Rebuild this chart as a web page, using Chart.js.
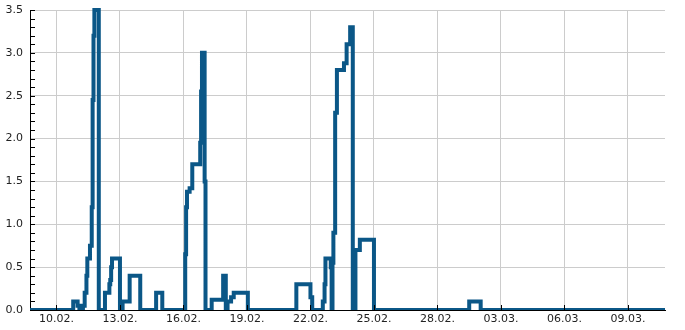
<!DOCTYPE html>
<html><head><meta charset="utf-8">
<script src="https://cdn.jsdelivr.net/npm/chart.js@4"></script>
<style>html,body{margin:0;padding:0;background:#fff}#wrap{width:685px;height:330px;position:relative}</style>
</head><body><div id="wrap"><canvas id="c"></canvas></div>
<script>
// Hours since 10.02. 00:00 at which the value changes (step series)
const stepHours = [-30, 19, 24, 26, 30, 32, 34, 35, 38, 40, 41, 42, 43, 48,
  55, 60, 61, 62, 63, 72, 75, 83, 95, 113, 120,
  146, 147, 148, 151, 154, 163, 164, 165, 168, 169,
  176, 189, 192, 194, 198, 201, 217,
  272, 288, 290, 302, 304, 305, 311, 312, 313, 314, 316, 318, 326, 329, 333, 336,
  339, 344, 360, 468, 481, 690];
const stepValues = [0, 0.1, 0.05, 0, 0.05, 0.2, 0.4, 0.6, 0.75, 1.2, 2.45, 3.2, 3.5, 0,
  0.2, 0.3, 0.35, 0.5, 0.6, 0, 0.1, 0.4, 0, 0.2, 0,
  0.65, 1.2, 1.38, 1.42, 1.7, 1.95, 2.55, 3.0, 1.5, 0,
  0.12, 0.4, 0, 0.1, 0.15, 0.2, 0,
  0.3, 0.15, 0, 0.1, 0.3, 0.6, 0.5, 0, 0.55, 0.9, 2.3, 2.8, 2.88, 3.1, 3.3, 0,
  0.7, 0.82, 0, 0.1, 0, 0];
const tickHours = [0, 72, 144, 216, 288, 360, 432, 504, 576, 648];
const tickLabels = ['10.02.', '13.02.', '16.02.', '19.02.', '22.02.', '25.02.', '28.02.', '03.03.', '06.03.', '09.03.'];
const xMin = -30, xMax = 690;
const yMin = 0, yMax = 3.5, yStep = 0.5, yMinorStep = 0.1;

const points = stepHours.map((h, i) => ({x: h, y: stepValues[i]}));

const insideTicks = {
  id: 'insideTicks',
  afterDraw(chart) {
    const {ctx, chartArea, scales: {x, y}} = chart;
    ctx.save();
    ctx.strokeStyle = '#000';
    ctx.lineWidth = 1;
    ctx.beginPath();
    const n = Math.round((yMax - yMin) / yMinorStep);
    for (let i = 0; i <= n; i++) {
      const py = Math.round(y.getPixelForValue(yMin + i * yMinorStep)) + 0.5;
      ctx.moveTo(chartArea.left, py);
      ctx.lineTo(chartArea.left + 5, py);
    }
    for (const t of tickHours) {
      const px = Math.round(x.getPixelForValue(t)) + 0.5;
      ctx.moveTo(px, chartArea.bottom);
      ctx.lineTo(px, chartArea.bottom - 5);
    }
    ctx.stroke();
    ctx.restore();
  }
};

new Chart(document.getElementById('c'), {
  type: 'line',
  data: {
    datasets: [{
      data: points,
      borderColor: '#0b5787',
      borderWidth: 4,
      pointRadius: 0,
      stepped: true,
      fill: false,
      borderJoinStyle: 'miter',
      clip: {left: 0, top: false, right: 0, bottom: 0}
    }]
  },
  options: {
    responsive: true,
    maintainAspectRatio: false,
    animation: false,
    layout: {padding: {top: 10, right: 20, bottom: 0, left: 0}},
    plugins: {legend: {display: false}, tooltip: {enabled: false}},
    scales: {
      x: {
        type: 'linear',
        min: xMin, max: xMax,
        afterBuildTicks: s => { s.ticks = tickHours.map(v => ({value: v})); },
        afterFit: s => { s.height = 20; s.paddingLeft = 0; s.paddingRight = 0; },
        grid: {color: '#cccccc', drawTicks: false},
        border: {color: '#000', width: 1},
        ticks: {
          autoSkip: false, maxRotation: 0, padding: 3,
          color: '#222',
          font: {family: 'DejaVu Sans', size: 11},
          callback: v => tickLabels[tickHours.indexOf(v)]
        }
      },
      y: {
        min: yMin, max: yMax,
        afterFit: s => { s.width = 30; s.paddingTop = 0; s.paddingBottom = 0; },
        grid: {color: '#cccccc', drawTicks: false},
        border: {color: '#000', width: 1},
        ticks: {
          stepSize: yStep, padding: 7,
          color: '#222',
          font: {family: 'DejaVu Sans', size: 11},
          callback: v => v.toFixed(1)
        }
      }
    }
  },
  plugins: [insideTicks]
});
</script>
</body></html>
